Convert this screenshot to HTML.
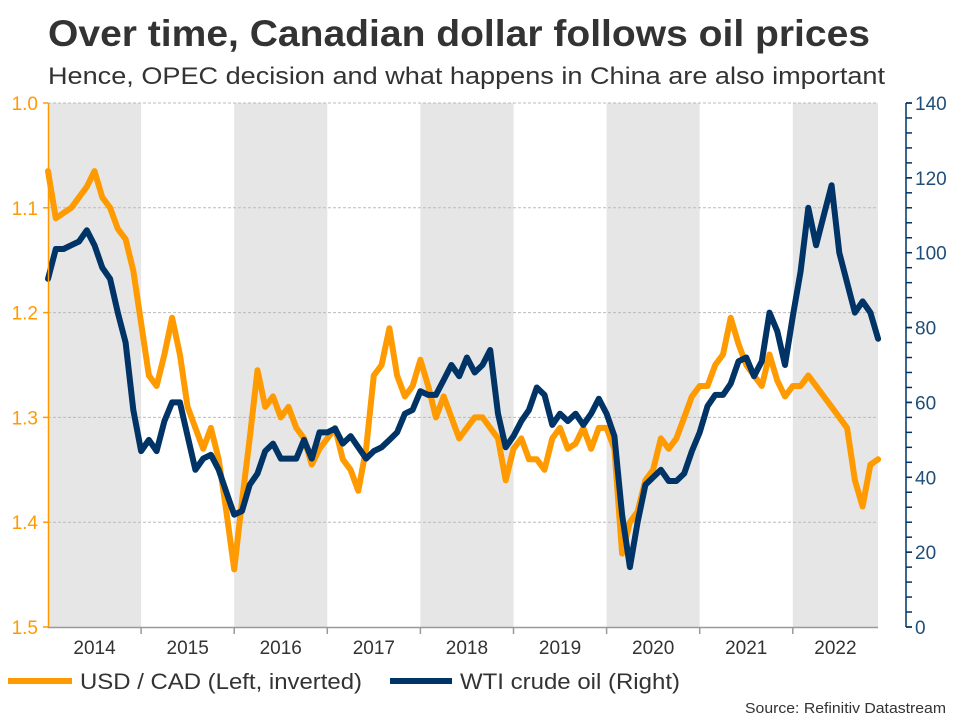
<!DOCTYPE html>
<html><head><meta charset="utf-8"><style>
html,body{margin:0;padding:0;background:#fff;}
svg{display:block;font-family:"Liberation Sans",Arial,sans-serif;}
</style></head><body>
<svg id="chart" width="960" height="720" viewBox="0 0 960 720" xmlns="http://www.w3.org/2000/svg">
<text x="48" y="46" font-size="37" font-weight="bold" fill="#333" textLength="822" lengthAdjust="spacingAndGlyphs">Over time, Canadian dollar follows oil prices</text>
<text x="48" y="84" font-size="24" fill="#333" textLength="837" lengthAdjust="spacingAndGlyphs">Hence, OPEC decision and what happens in China are also important</text>
<g id="bands"></g>
<g id="grid"></g>
<g id="series"></g>
<g id="axes"></g>
<g>
<line x1="8" y1="681" x2="72" y2="681" stroke="#FF9A00" stroke-width="6"/>
<text x="80" y="689" font-size="22" fill="#333" textLength="282" lengthAdjust="spacingAndGlyphs">USD / CAD (Left, inverted)</text>
<line x1="390" y1="681" x2="452" y2="681" stroke="#003366" stroke-width="6"/>
<text x="460" y="689" font-size="22" fill="#333" textLength="220" lengthAdjust="spacingAndGlyphs">WTI crude oil (Right)</text>
</g>
<text x="946" y="713" font-size="15" fill="#333" text-anchor="end" textLength="201" lengthAdjust="spacingAndGlyphs">Source: Refinitiv Datastream</text>
</svg>
<script>
const years = ['2014','2015','2016','2017','2018','2019','2020','2021','2022'];
const leftTicks = [1.0,1.1,1.2,1.3,1.4,1.5];
const rightTicks = [0,20,40,60,80,100,120,140];
const usdcad = [
1.065,1.11,1.105,1.10,1.09,1.08,1.065,1.09,1.10,1.12,1.13,1.16,
1.21,1.26,1.27,1.24,1.205,1.24,1.29,1.31,1.33,1.31,1.34,1.39,
1.445,1.38,1.32,1.255,1.29,1.28,1.30,1.29,1.31,1.32,1.345,1.33,
1.32,1.31,1.34,1.35,1.37,1.33,1.26,1.25,1.215,1.26,1.28,1.27,
1.245,1.27,1.30,1.28,1.30,1.32,1.31,1.30,1.30,1.31,1.32,1.36,
1.33,1.32,1.34,1.34,1.35,1.32,1.31,1.33,1.325,1.31,1.33,1.31,
1.31,1.33,1.43,1.40,1.39,1.36,1.35,1.32,1.33,1.32,1.30,1.28,
1.27,1.27,1.25,1.24,1.205,1.23,1.25,1.26,1.27,1.24,1.265,1.28,
1.27,1.27,1.26,1.27,1.28,1.29,1.30,1.31,1.36,1.385,1.345,1.34];
const wti = [
93,101,101,102,103,106,102,96,93,84,76,58,
47,50,47,55,60,60,51,42,45,46,42,36,
30,31,38,41,47,49,45,45,45,50,45,52,
52,53,49,51,48,45,47,48,50,52,57,58,
63,62,62,66,70,67,72,68,70,74,57,48,
51,55,58,64,62,54,57,55,57,54,57,61,
57,51,30,16,28,38,40,42,39,39,41,47,
52,59,62,62,65,71,72,67,71,84,79,70,
83,95,112,102,110,118,100,92,84,87,84,77];
const svg = document.getElementById('chart');
const NS = 'http://www.w3.org/2000/svg';
const X0 = 48, YW = 93.1, Y0 = 103, Y1 = 627, XEND = 878, RAX = 906;
function xm(i){ return X0 + i/12*YW; }
function yL(v){ return Y0 + (v-1.0)/0.5*(Y1-Y0); }
function yR(v){ return Y1 - v/140*(Y1-Y0); }
function mk(tag, attrs, parent){ const e=document.createElementNS(NS,tag); for(const k in attrs) e.setAttribute(k,attrs[k]); parent.appendChild(e); return e; }
const bands = document.getElementById('bands');
years.forEach((y,i)=>{
  const x1 = X0 + i*YW, x2 = Math.min(X0+(i+1)*YW, XEND);
  if(i%2===0){
    const r = mk('rect',{x:x1,y:Y0,width:x2-x1,height:Y1-Y0,fill:'#E6E6E6'},bands);
    
    
  }
});
const grid = document.getElementById('grid');
leftTicks.forEach(v=>{
  if(v>=1.5) return;
  const l = mk('line',{x1:X0,x2:XEND,y1:yL(v),y2:yL(v),stroke:'#BBBBBB','stroke-width':1,'stroke-dasharray':'3,2'},grid);
  
  
});
const series = document.getElementById('series');
function path(arr, fy, color, name){
  const d = arr.map((v,i)=>(i?'L':'M')+xm(i).toFixed(1)+','+fy(v).toFixed(1)).join('');
  const p = mk('path',{d:d,fill:'none',stroke:color,'stroke-width':6,'stroke-linejoin':'round','stroke-linecap':'round'},series);
  
  
}
path(usdcad, yL, '#FF9A00', 'usdcad-line');
path(wti, yR, '#003366', 'wti-line');
const axes = document.getElementById('axes');
const la = mk('line',{x1:X0+0.5,x2:X0+0.5,y1:Y0,y2:Y1,stroke:'#FF9A00','stroke-width':1.5},axes);


leftTicks.forEach(v=>{
  mk('line',{x1:X0-5,x2:X0,y1:yL(v),y2:yL(v),stroke:'#FF9A00','stroke-width':1.5},axes);
  const t = mk('text',{x:X0-10,y:yL(v)+7,'font-size':19,fill:'#FF9A00','text-anchor':'end'},axes);
  t.textContent = v.toFixed(1);
  
  
});
const ra = mk('line',{x1:RAX,x2:RAX,y1:Y0,y2:Y1,stroke:'#003366','stroke-width':1.5},axes);


for(let v=0; v<=140; v+=4){
  mk('line',{x1:RAX,x2:RAX+6,y1:yR(v),y2:yR(v),stroke:'#003366','stroke-width':1.5},axes);
}
rightTicks.forEach(v=>{
  mk('line',{x1:RAX,x2:RAX+6,y1:yR(v),y2:yR(v),stroke:'#003366','stroke-width':1.5},axes);
  const t = mk('text',{x:RAX+9,y:yR(v)+7,'font-size':19,fill:'#1F4E79'},axes);
  t.textContent = v;
  
  
});
const xa = mk('line',{x1:X0,x2:XEND,y1:Y1+0.5,y2:Y1+0.5,stroke:'#999','stroke-width':1.5},axes);


years.forEach((y,i)=>{
  const x1 = X0 + i*YW, x2 = Math.min(X0+(i+1)*YW, XEND);
  if(i>0) mk('line',{x1:x1,x2:x1,y1:Y1,y2:Y1+7,stroke:'#999','stroke-width':1.5},axes);
  const t = mk('text',{x:(x1+x2)/2,y:Y1+27,'font-size':19,fill:'#333','text-anchor':'middle'},axes);
  t.textContent = y;
  
  
});
</script>
</body></html>
